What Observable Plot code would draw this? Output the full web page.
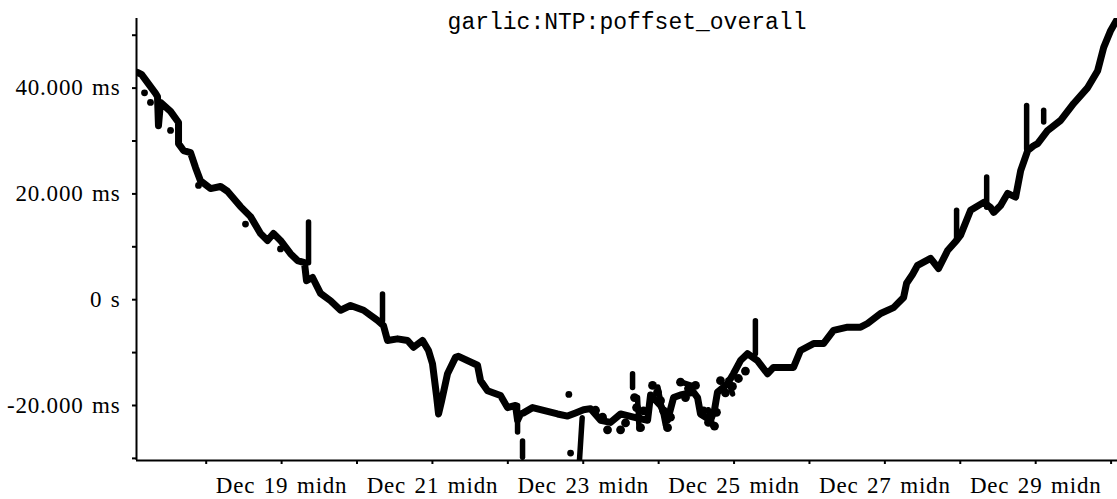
<!DOCTYPE html>
<html><head><meta charset="utf-8">
<script src="https://cdn.jsdelivr.net/npm/d3@7"></script>
<script src="https://cdn.jsdelivr.net/npm/@observablehq/plot@0.6"></script>
<style>
html,body{margin:0;padding:0;background:#fff;}
#chart svg g[aria-label$="axis tick label"] text{word-spacing:2px;letter-spacing:0.8px;}
</style></head><body><div id="chart"></div>
<script>
const title = "garlic:NTP:poffset_overall";
// days since Dec 17 00:00 (UTC), offset in ms
const traceDay = [0.089,0.142,0.328,0.354,0.367,0.394,0.527,0.633,0.633,0.699,
0.792,0.858,0.924,1.057,1.190,1.282,1.455,1.588,1.720,1.813,
1.892,1.985,2.118,2.211,2.303,2.330,2.410,2.516,2.649,2.782,
2.914,3.087,3.272,3.351,3.404,3.537,3.670,3.749,3.868,3.948,
4.001,4.054,4.081,4.121,4.200,4.306,4.346,4.598,4.638,4.731,
4.903,4.996,5.102,5.129,5.168,5.208,5.328,5.659,5.792,5.898,
6.004,6.097,6.230,6.362,6.495,6.667,6.853,6.893,7.026,7.118,
7.198,7.290,7.463,7.516,7.555,7.688,7.741,7.780,7.913,7.992,
8.085,8.178,8.310,8.443,8.523,8.655,8.788,8.881,9.054,9.186,
9.319,9.505,9.678,9.770,9.943,10.115,10.248,10.288,10.368,10.434,
10.606,10.712,10.832,10.951,11.004,11.137,11.310,11.403,11.443,11.535,
11.628,11.734,11.801,11.894,11.973,12.026,12.159,12.331,12.504,12.690,
12.822,12.902,12.995,13.088];
const traceMs = [42.95,42.6,39.0,38.4,32.9,37.3,35.6,33.5,29.5,28.2,
27.8,25.0,22.5,21.0,21.4,20.5,17.6,15.7,12.5,11.2,
12.5,11.2,8.7,7.4,7.0,3.6,4.2,1.2,-0.2,-2.0,
-1.1,-2.0,-3.9,-4.9,-7.7,-7.4,-7.7,-9.0,-7.7,-9.6,
-12.1,-18.1,-21.6,-19.2,-14.0,-10.9,-10.7,-12.4,-15.3,-17.2,
-18.1,-20.4,-20.0,-22.8,-21.6,-21.4,-20.4,-21.6,-22.0,-21.4,
-20.8,-20.6,-22.8,-23.2,-21.6,-22.2,-22.8,-18.0,-20.0,-22.8,
-18.5,-18.0,-17.5,-18.5,-21.6,-22.8,-20.8,-17.5,-15.9,-14.0,
-11.5,-10.2,-11.5,-14.0,-12.8,-12.8,-12.8,-9.6,-8.3,-8.3,
-5.8,-5.2,-5.2,-4.5,-2.6,-1.5,0.4,3.1,4.8,6.5,
7.8,5.9,9.3,11.2,12.2,16.9,18.4,17.4,16.5,17.8,
20.1,19.4,24.4,28.2,29.1,29.5,32.0,33.9,37.1,40.1,
43.3,47.7,50.9,53.2];
// spikes: start/end day and ms
const spikeDayA = [2.357,3.338,5.129,5.195,5.986,6.654,8.283,10.951,11.350,11.880,12.106,6.720,6.990,7.660,7.920,7.300];
const spikeMsA  = [7.0,-4.0,-25.0,-29.8,-22.3,-16.6,-10.2,11.2,17.5,28.5,33.6,-18.5,-16.5,-20.8,-15.2,-15.6];
const spikeDayB = [2.357,3.338,5.129,5.195,5.949,6.654,8.283,10.951,11.350,11.880,12.106,6.740,7.090,7.720,7.980,7.480];
const spikeMsB  = [14.7,1.1,-20.0,-26.7,-30.6,-14.0,-4.0,16.9,23.2,36.7,35.8,-24.4,-23.8,-23.9,-17.8,-16.4];
// isolated points
const outlierDay = [0.182,0.261,0.527,0.898,1.521,1.985,5.832,5.809];
const outlierMs  = [39.1,37.3,32.0,21.6,14.3,9.6,-29.0,-17.9];
// noisy clusters (Dec 23 - Dec 25)
const clusterDay = [6.163,6.256,6.322,6.495,6.561,6.680,6.707,6.733,6.760,6.800,
6.919,6.985,7.025,7.065,7.118,7.157,7.290,7.396,7.489,7.356,
7.595,7.661,7.741,7.767,7.820,7.886,7.979,8.058,8.151];
const clusterMs  = [-20.9,-22.2,-24.6,-24.6,-23.3,-18.5,-20.4,-22.3,-24.2,-21.0,
-16.2,-17.5,-19.1,-21.0,-24.2,-22.2,-15.6,-16.8,-16.2,-18.5,
-21.0,-23.2,-23.9,-21.3,-15.3,-17.6,-16.4,-14.9,-13.5];

const yMinorTicks = [-30,-20,-10,0,10,20,30,40,50];
const yLabelTicks = [40,20,0,-20];
const yLabels = ["40.000 ms","20.000 ms","0 s","-20.000 ms"];
const xMinorDays = [1,2,3,4,5,6,7,8,9,10,11,12,13];
const xLabelDays = [2,4,6,8,10,12];
const xLabels = ["Dec 19 midn","Dec 21 midn","Dec 23 midn","Dec 25 midn","Dec 27 midn","Dec 29 midn"];
const xDomainDays = [0.0756, 13.085];
const yDomain = [-30.4, 53.16];

const base = Date.UTC(2001, 11, 17);
const toDate = d => new Date(base + d * 864e5);
const trace = traceDay.map((d, i) => ({t: toDate(d), v: traceMs[i]}));
const spikes = spikeDayA.map((d, i) => ({t1: toDate(d), v1: spikeMsA[i], t2: toDate(spikeDayB[i]), v2: spikeMsB[i]}));
const outliers = outlierDay.map((d, i) => ({t: toDate(d), v: outlierMs[i]}));
const clusters = clusterDay.map((d, i) => ({t: toDate(d), v: clusterMs[i]}));
const xLabelTimes = xLabelDays.map(d => toDate(d).getTime());

const chart = Plot.plot({
  width: 1117, height: 499,
  marginLeft: 136, marginRight: 0, marginTop: 18, marginBottom: 39,
  style: {fontFamily: "'Liberation Serif', serif", fontSize: "23px", color: "#000", background: "#fff"},
  x: {type: "utc", domain: xDomainDays.map(toDate)},
  y: {domain: yDomain},
  marks: [
    Plot.axisY({ticks: yMinorTicks, tickSize: 4, tickFormat: () => "", strokeWidth: 2, label: null}),
    Plot.axisY({ticks: yLabelTicks, tickSize: 0, tickPadding: 16, tickFormat: v => yLabels[yLabelTicks.indexOf(v)], label: null}),
    Plot.axisX({ticks: xMinorDays.map(toDate), tickSize: 4, tickFormat: () => "", strokeWidth: 2, label: null}),
    Plot.axisX({ticks: xLabelDays.map(toDate), tickSize: 0, tickPadding: 16, tickFormat: d => xLabels[xLabelTimes.indexOf(+d)], label: null}),
    Plot.ruleX([toDate(xDomainDays[0])], {strokeWidth: 2, stroke: "#000"}),
    Plot.ruleY([yDomain[0]], {strokeWidth: 2, stroke: "#000"}),
    Plot.line(trace, {x: "t", y: "v", stroke: "#000", strokeWidth: 7, strokeLinejoin: "round", strokeLinecap: "round", clip: true}),
    Plot.link(spikes, {x1: "t1", y1: "v1", x2: "t2", y2: "v2", stroke: "#000", strokeWidth: 5.5, strokeLinecap: "round", clip: true}),
    Plot.dot(outliers, {x: "t", y: "v", r: 3.4, fill: "#000", stroke: null, clip: true}),
    Plot.dot(clusters, {x: "t", y: "v", r: 4.4, fill: "#000", stroke: null, clip: true}),
    Plot.text([title], {frameAnchor: "top", dy: -6, fontFamily: "'Liberation Mono', monospace", fontSize: 23, fill: "#000"})
  ]
});
document.getElementById("chart").appendChild(chart);
</script></body></html>
